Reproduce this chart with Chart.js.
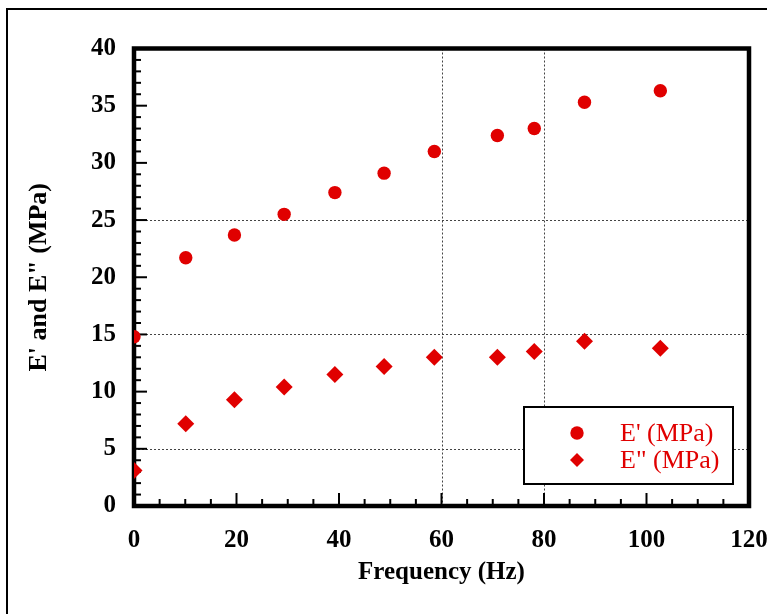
<!DOCTYPE html>
<html>
<head>
<meta charset="utf-8">
<script src="https://cdn.jsdelivr.net/npm/chart.js@4/dist/chart.umd.min.js"></script>
<style>
  html, body { margin: 0; padding: 0; background: #fff; overflow: hidden; }
  #frame { position: absolute; left: 6px; top: 8px; width: 780px; height: 640px; border: 2px solid #000; }
  #wrap { position: absolute; left: 0; top: 0; width: 767px; height: 614px; }
</style>
</head>
<body>
<div id="frame"></div>
<div id="wrap"><canvas id="grafico" width="767" height="614"></canvas></div>
<script>
// frecuencia (Hz) y módulos
const freq = [0, 10.1, 19.6, 29.3, 39.2, 48.8, 58.6, 70.9, 78.1, 87.9, 102.7];
const eStorage = [14.8, 21.7, 23.7, 25.5, 27.4, 29.1, 31.0, 32.4, 33.0, 35.3, 36.3];
const eLoss = [3.1, 7.2, 9.3, 10.4, 11.5, 12.2, 13.0, 13.0, 13.5, 14.4, 13.8];
const gridX = [60, 80];
const gridY = [5, 15, 25];

const RED = '#e00000';
const SERIF = '"Liberation Serif", "Times New Roman", serif';

const toPts = (ys) => freq.map((x, i) => ({ x, y: ys[i] }));

// marco, rejilla punteada y marcas hacia dentro
const framePlugin = {
  id: 'frameTicks',
  beforeDatasetsDraw(chart) {
    const { ctx, chartArea: { left, right, top, bottom }, scales: { x, y } } = chart;
    ctx.save();
    ctx.strokeStyle = '#444';
    ctx.lineWidth = 1;
    ctx.setLineDash([2, 2]);
    gridX.forEach(v => {
      const px = Math.round(x.getPixelForValue(v)) + 0.5;
      ctx.beginPath(); ctx.moveTo(px, top); ctx.lineTo(px, bottom); ctx.stroke();
    });
    gridY.forEach(v => {
      const py = Math.round(y.getPixelForValue(v)) + 0.5;
      ctx.beginPath(); ctx.moveTo(left, py); ctx.lineTo(right, py); ctx.stroke();
    });
    ctx.setLineDash([]);
    ctx.strokeStyle = '#000';
    ctx.lineWidth = 2;
    for (let v = 5; v < 120; v += 5) {
      const px = x.getPixelForValue(v);
      const len = v % 20 === 0 ? 13 : 7;
      ctx.beginPath(); ctx.moveTo(px, bottom); ctx.lineTo(px, bottom - len); ctx.stroke();
    }
    for (let v = 1; v < 40; v += 1) {
      const py = y.getPixelForValue(v);
      const len = v % 5 === 0 ? 13 : 7;
      ctx.beginPath(); ctx.moveTo(left, py); ctx.lineTo(left + len, py); ctx.stroke();
    }
    ctx.lineWidth = 4.5;
    ctx.strokeRect(left, top, right - left, bottom - top);
    ctx.restore();
  },
  afterDatasetsDraw(chart) {
    // leyenda en recuadro
    const { ctx } = chart;
    const bx = 524, by = 407, bw = 209, bh = 77;
    ctx.save();
    ctx.fillStyle = '#fff';
    ctx.fillRect(bx, by, bw, bh);
    ctx.strokeStyle = '#000';
    ctx.lineWidth = 2;
    ctx.strokeRect(bx, by, bw, bh);
    ctx.fillStyle = RED;
    ctx.beginPath(); ctx.arc(577, 433, 6.7, 0, Math.PI * 2); ctx.fill();
    ctx.beginPath();
    ctx.moveTo(577 - 7, 460); ctx.lineTo(577, 460 - 7); ctx.lineTo(577 + 7, 460); ctx.lineTo(577, 460 + 7);
    ctx.closePath(); ctx.fill();
    ctx.font = '26px ' + SERIF;
    ctx.textBaseline = 'middle';
    ctx.textAlign = 'left';
    ctx.fillText("E' (MPa)", 620, 434);
    ctx.fillText('E" (MPa)', 620, 461);
    ctx.restore();
  }
};

new Chart(document.getElementById('grafico').getContext('2d'), {
  type: 'scatter',
  data: {
    datasets: [
      { label: "E' (MPa)", data: toPts(eStorage), pointStyle: 'circle', pointRadius: 6.7, backgroundColor: RED, borderWidth: 0 },
      { label: 'E" (MPa)', data: toPts(eLoss), pointStyle: 'rectRot', pointRadius: 8.5, backgroundColor: RED, borderWidth: 0 }
    ]
  },
  options: {
    responsive: false,
    animation: false,
    layout: { padding: { top: 48.5, right: 18, left: 0, bottom: 0 } },
    scales: {
      x: {
        type: 'linear', min: 0, max: 120,
        afterFit: (s) => { s.height = 108; s.paddingLeft = 0; s.paddingRight = 0; },
        ticks: { stepSize: 20, color: '#000', font: { family: SERIF, size: 25, weight: 'bold' }, padding: 20, maxRotation: 0 },
        grid: { display: false, drawTicks: false },
        border: { display: false },
        title: { display: true, text: 'Frequency (Hz)', color: '#000', font: { family: SERIF, size: 25, weight: 'bold' }, padding: { top: 0, bottom: 26 } }
      },
      y: {
        type: 'linear', min: 0, max: 40,
        afterFit: (s) => { s.width = 134; s.paddingTop = 0; s.paddingBottom = 0; },
        ticks: { stepSize: 5, color: '#000', font: { family: SERIF, size: 25, weight: 'bold' }, padding: 18 },
        grid: { display: false, drawTicks: false },
        border: { display: false },
        title: { display: true, text: 'E\' and E" (MPa)', color: '#000', font: { family: SERIF, size: 26, weight: 'bold' }, padding: { top: 24, bottom: 0 } }
      }
    },
    plugins: {
      legend: { display: false },
      tooltip: { enabled: false }
    }
  },
  plugins: [framePlugin]
});
</script>
</body>
</html>
